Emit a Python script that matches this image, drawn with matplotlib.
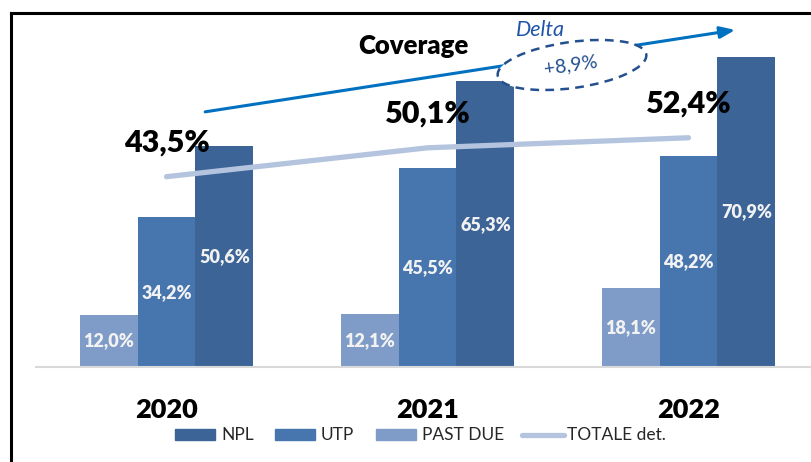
import matplotlib.pyplot as plt
import numpy as np
from matplotlib.lines import Line2D
from matplotlib.patches import Ellipse, Rectangle

plt.rcParams['font.family'] = ['Lato', 'DejaVu Sans']

# Data
years = ['2020', '2021', '2022']
past_due = [12.0, 12.1, 18.1]
utp = [34.2, 45.5, 48.2]
npl = [50.6, 65.3, 70.9]
totale = [43.5, 50.1, 52.4]
coverage_labels = ['43,5%', '50,1%', '52,4%']
delta_label = '+8,9%'
legend_names = ['NPL', 'UTP', 'PAST DUE', 'TOTALE det.']

c_npl = '#3C6497'
c_utp = '#4776AF'
c_pd = '#7F9BC7'
c_tot = '#B4C4DF'
c_arrow = '#0070C0'
c_dark = '#24508F'

W, H = 812, 462
fig = plt.figure(figsize=(W / 100, H / 100), dpi=100)
ax = fig.add_axes([36 / W, (H - 367) / H, 783 / W, 350 / H])

x = np.arange(len(years))
bw = 0.222

series = [(past_due, c_pd, -bw), (utp, c_utp, 0), (npl, c_npl, bw)]
for vals, col, off in series:
    bars = ax.bar(x + off, vals, bw, color=col, zorder=2)
    for b, v in zip(bars, vals):
        ax.text(b.get_x() + b.get_width() / 2, v / 2, f'{v:.1f}%'.replace('.', ','),
                ha='center', va='center', color='#F2F2F2', fontsize=13,
                fontweight='heavy', zorder=4)

ax.plot(x, totale, color=c_tot, lw=3.8, solid_capstyle='round', zorder=3)
for xi, v, lab in zip(x, totale, coverage_labels):
    ax.annotate(lab, (xi, v), xytext=(0, 24.5), textcoords='offset points',
                ha='center', va='center', fontsize=22, fontweight='heavy',
                color='black', zorder=5)

ax.set_xlim(-0.5, 2.5)
ax.set_ylim(0, 80)
ax.set_yticks([])
ax.set_xticks(x)
ax.set_xticklabels(years, fontsize=19.5, fontweight='heavy')
ax.tick_params(axis='x', length=0, pad=22)
for s in ['top', 'left', 'right']:
    ax.spines[s].set_visible(False)
ax.spines['bottom'].set_color('#D9D9D9')
ax.spines['bottom'].set_linewidth(1.5)

# Coverage arrow with delta ellipse
ax.annotate('', xy=(0.893, 0.963), xytext=(0.216, 0.729), xycoords='axes fraction',
            textcoords='axes fraction',
            arrowprops=dict(arrowstyle='-|>,head_length=0.9,head_width=0.35',
                            color=c_arrow, lw=2.2, shrinkA=0, shrinkB=0), zorder=6)
ell = Ellipse((5.72, (H - 65) / 100), 1.5, 0.46, angle=8,
              transform=fig.dpi_scale_trans, facecolor='white', edgecolor=c_dark,
              lw=1.8, linestyle=(0, (3.5, 2.5)), zorder=7)
fig.add_artist(ell)
fig.text(571 / W, (H - 65) / H, delta_label, ha='center', va='center', rotation=8,
         fontsize=14, color=c_dark, zorder=8)
fig.text(540 / W, (H - 30) / H, 'Delta', ha='center', va='center', fontsize=15.5,
         style='italic', color='#1F55A8', zorder=8)
fig.text(413 / W, (H - 46) / H, 'Coverage', ha='center', va='center', fontsize=18.5,
         fontweight='heavy', color='black', zorder=8)

# Legend, laid out by hand to match spacing
leg_y = H - 434.5
patch_x = [175, 275, 376]
for px, col, name in zip(patch_x, [c_npl, c_utp, c_pd], legend_names[:3]):
    fig.add_artist(Rectangle((px / W, (leg_y - 5.5) / H), 40 / W, 11 / H,
                             transform=fig.transFigure, color=col))
    fig.text((px + 46) / W, leg_y / H, name, ha='left', va='center', fontsize=12.5,
             color='#262626')
fig.add_artist(Line2D([522 / W, 564 / W], [leg_y / H, leg_y / H], transform=fig.transFigure,
                      color=c_tot, lw=3.8, solid_capstyle='round'))
fig.text(567 / W, leg_y / H, legend_names[3], ha='left', va='center', fontsize=12.5,
         color='#262626')

# Frame border
fig.add_artist(Line2D([11 / W, 11 / W], [0, 1 - 13 / H], transform=fig.transFigure,
                      color='black', lw=2.2))
fig.add_artist(Line2D([11 / W, 1], [1 - 13 / H, 1 - 13 / H], transform=fig.transFigure,
                      color='black', lw=2.2))

fig.savefig('out.png', dpi=100)
